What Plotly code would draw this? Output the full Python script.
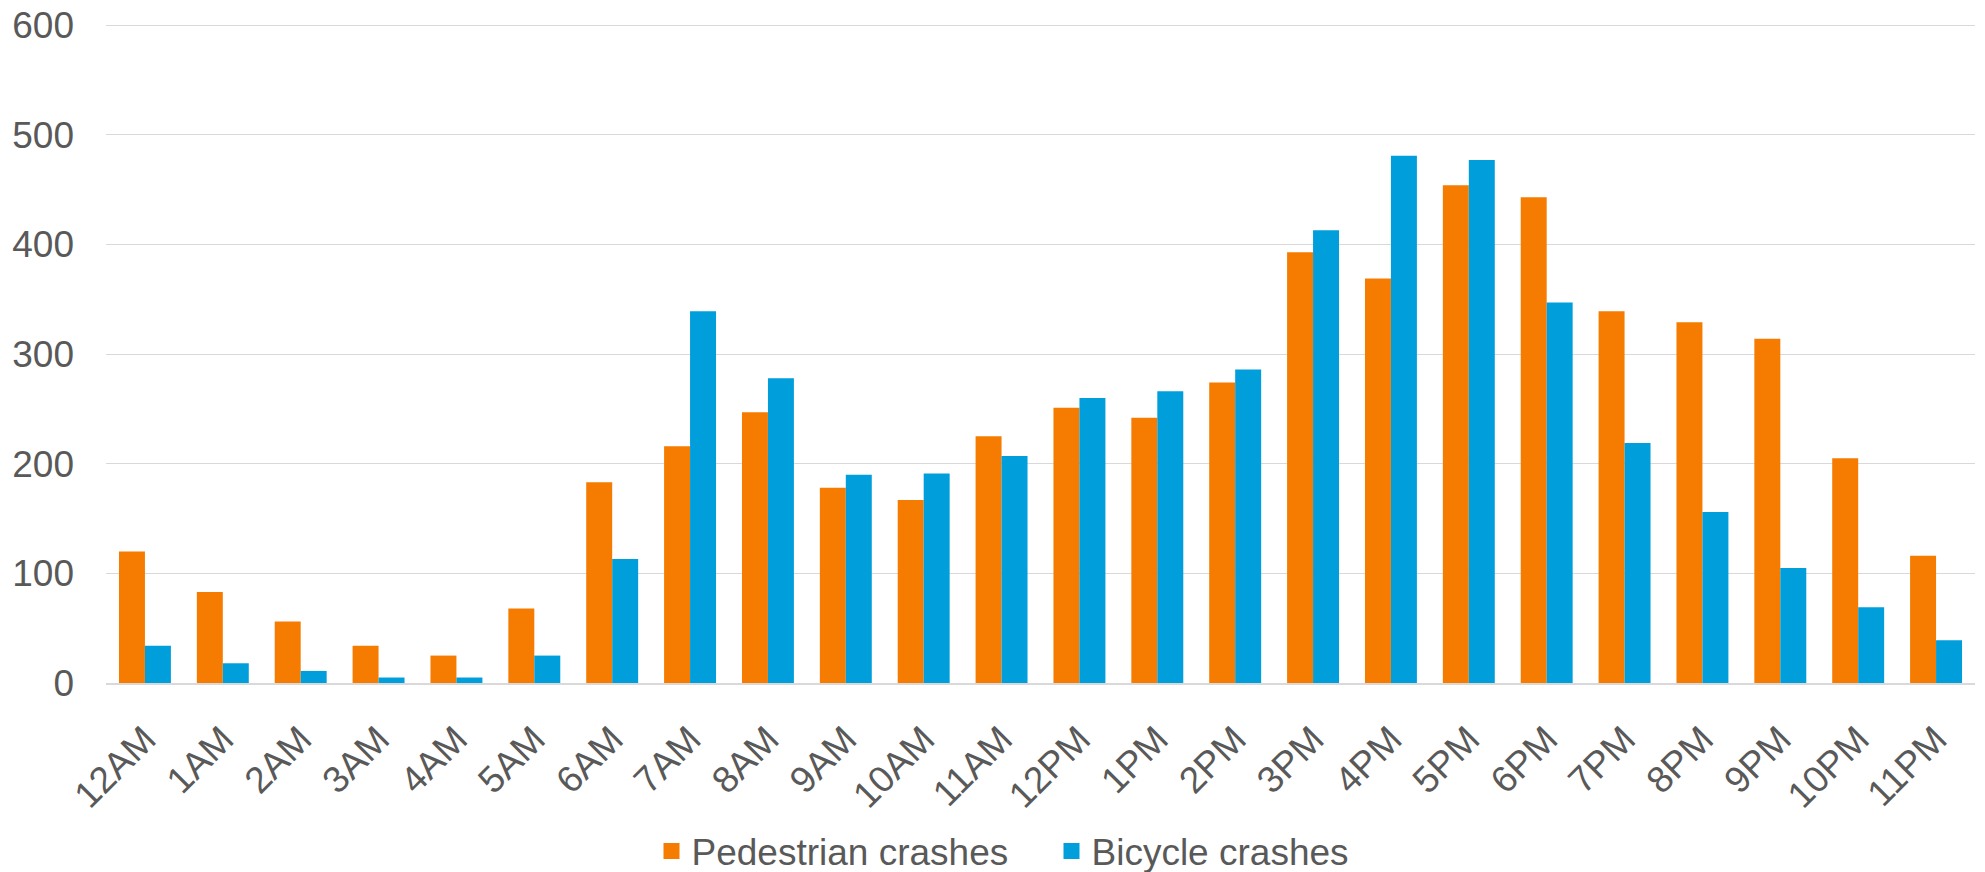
import plotly.graph_objects as go

hours = ["12AM", "1AM", "2AM", "3AM", "4AM", "5AM", "6AM", "7AM", "8AM", "9AM",
         "10AM", "11AM", "12PM", "1PM", "2PM", "3PM", "4PM", "5PM", "6PM", "7PM",
         "8PM", "9PM", "10PM", "11PM"]

pedestrian_crashes = [120, 83, 56, 34, 25, 68, 183, 216, 247, 178,
                      167, 225, 251, 242, 274, 393, 369, 454, 443, 339,
                      329, 314, 205, 116]

bicycle_crashes = [34, 18, 11, 5, 5, 25, 113, 339, 278, 190,
                   191, 207, 260, 266, 286, 413, 481, 477, 347, 219,
                   156, 105, 69, 39]

y_ticks = [0, 100, 200, 300, 400, 500, 600]

ORANGE = "#F57C00"
BLUE = "#009EDB"
TEXT = "#595959"
GRID = "#D9D9D9"
FONT = "Liberation Sans, Arial, sans-serif"
FS = 37

fig = go.Figure()
fig.add_trace(go.Bar(x=hours, y=pedestrian_crashes, name="Pedestrian crashes",
                     marker=dict(color=ORANGE, line=dict(width=0)), showlegend=False))
fig.add_trace(go.Bar(x=hours, y=bicycle_crashes, name="Bicycle crashes",
                     marker=dict(color=BLUE, line=dict(width=0)), showlegend=False))

# legend entries with square swatches, each in its own legend box
fig.add_trace(go.Scatter(x=[None], y=[None], mode="markers", name="Pedestrian crashes",
                         marker=dict(symbol="square", size=18, color=ORANGE), legend="legend"))
fig.add_trace(go.Scatter(x=[None], y=[None], mode="markers", name="Bicycle crashes",
                         marker=dict(symbol="square", size=18, color=BLUE), legend="legend2"))

legend_common = dict(xref="container", yref="container", xanchor="left", yanchor="middle",
                     y=0.0235, font=dict(family=FONT, size=FS, color=TEXT),
                     bgcolor="rgba(0,0,0,0)", borderwidth=0, itemsizing="trace")

fig.update_layout(
    width=1985, height=872,
    margin=dict(l=106, r=10, t=23, b=188.5, pad=0, autoexpand=False),
    paper_bgcolor="white", plot_bgcolor="white",
    barmode="group", bargap=0.333, bargroupgap=0,
    font=dict(family=FONT, size=FS, color=TEXT),
    showlegend=True,
    legend=dict(x=651.5 / 1985, **legend_common),
    legend2=dict(x=1051.5 / 1985, **legend_common),
)

fig.update_yaxes(range=[0, 602], tickvals=y_ticks, showgrid=True, gridcolor=GRID, gridwidth=1.4,
                 zeroline=False, showline=False, ticks="", ticklabelstandoff=31,
                 automargin=False, tickfont=dict(family=FONT, size=FS, color=TEXT))
fig.update_xaxes(type="category", tickangle=-45, showline=True, linecolor=GRID, linewidth=1.6,
                 showgrid=False, ticks="", automargin=False,
                 tickfont=dict(family=FONT, size=FS, color=TEXT), ticklabelstandoff=18)

fig.write_html("out.html")
